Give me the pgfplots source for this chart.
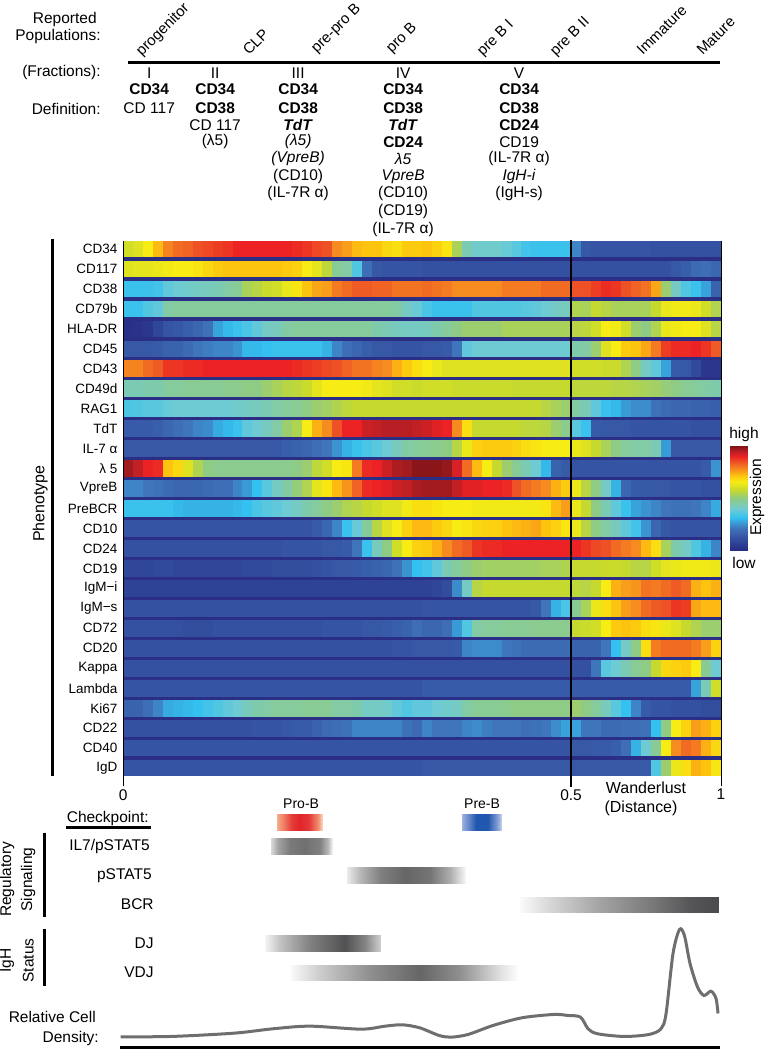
\documentclass[border=0pt]{standalone}
\usepackage{fontspec}
\setmainfont{Liberation Sans}
\usepackage{pgfplots}
\usepackage{pgfplotstable}
\pgfplotsset{compat=1.18}
\definecolor{navygap}{RGB}{42,46,133}
\definecolor{curvegray}{RGB}{109,110,112}
\pgfdeclareplotmark{heatcell}{%
  \pgfpathrectangle{\pgfpoint{-5.25pt}{-8.35pt}}{\pgfpoint{10.5pt}{16.7pt}}%
  \pgfusepathqfill}
\pgfplotsset{
  colormap={heat}{
    rgb255(0pt)=(38,42,130); rgb255(12pt)=(52,80,160); rgb255(22pt)=(63,118,187);
    rgb255(32pt)=(52,193,240); rgb255(40pt)=(111,203,211); rgb255(50pt)=(142,203,133);
    rgb255(58pt)=(197,217,47); rgb255(66pt)=(247,236,19); rgb255(72pt)=(253,196,15);
    rgb255(78pt)=(246,139,31); rgb255(84pt)=(239,91,37); rgb255(90pt)=(236,34,36);
    rgb255(95pt)=(184,31,37); rgb255(100pt)=(126,20,22)},
  colormap={fade}{rgb255(0pt)=(255,255,255); rgb255(100pt)=(51,51,53)},
  colormap={redfade}{rgb255(0pt)=(255,255,255); rgb255(45pt)=(243,150,115); rgb255(100pt)=(225,37,43)},
  colormap={bluefade}{rgb255(0pt)=(255,255,255); rgb255(45pt)=(135,160,215); rgb255(100pt)=(33,87,174)},
}
\newcommand{\fs}{\fontsize{15.5}{17}\selectfont}
\pgfplotstableread[header=false]{
60 62 66 73 79 82 83 85 86 87 88 90 90 90 90 90 90 89 88 86 85 78 76 73 72 72 69 68 71 71 72 70 67 54 44 41 41 41 39 37 34 33 33 33 33 24 14 13 13 13 13 13 13 12 12 12 12 12 12 12
62 63 63 64 65 66 66 67 69 71 72 72 72 72 72 72 71 70 66 63 57 48 46 36 20 14 13 13 13 13 12 12 12 12 12 12 12 12 12 12 12 12 12 12 12 12 12 12 12 12 12 12 12 12 12 14 16 19 20 18
33 33 33 34 38 40 41 42 43 44 46 48 54 56 59 60 64 67 72 75 76 80 82 84 84 83 83 81 81 81 82 81 80 78 78 78 78 78 80 80 80 80 82 82 82 85 85 87 89 88 85 83 81 75 52 42 36 33 28 17
33 33 36 38 46 47 47 47 47 47 47 47 47 47 47 47 47 47 47 47 47 47 47 47 47 47 47 46 42 39 35 33 33 33 33 36 36 36 36 36 37 38 40 42 43 55 54 58 56 54 54 54 54 58 64 65 65 64 60 55
2 3 4 9 13 14 16 18 21 28 31 33 35 38 42 43 46 47 47 47 47 47 47 47 47 45 44 43 42 42 43 45 47 50 52 52 52 52 54 54 54 54 54 54 54 56 57 60 66 65 60 52 50 55 64 65 66 66 62 56
14 14 14 15 17 17 19 22 23 24 24 26 31 31 32 33 33 33 33 33 30 24 20 18 16 14 14 13 13 13 14 14 15 22 38 40 40 40 40 40 40 40 40 40 40 45 46 52 62 66 71 72 75 80 87 89 89 90 88 84
79 79 82 84 88 88 89 89 90 90 90 90 90 90 90 90 90 89 88 87 86 85 83 81 81 79 78 74 71 68 66 64 62 62 62 62 62 62 62 62 62 62 62 62 62 60 60 60 59 59 55 50 42 38 28 15 14 10 4 4
44 44 45 45 47 47 48 48 48 48 49 49 50 50 52 54 56 57 59 63 66 66 66 66 65 63 62 60 60 59 60 60 60 59 59 59 59 59 59 58 58 58 58 58 58 57 57 57 57 56 56 55 54 53 51 50 48 47 46 45
35 36 37 37 39 40 40 40 40 40 40 41 42 43 44 46 47 48 50 52 53 55 57 58 58 58 58 58 58 58 58 58 58 58 58 58 58 58 58 58 58 58 56 54 52 46 44 38 33 31 27 25 25 21 19 18 18 17 17 16
15 15 15 16 18 20 22 24 25 29 31 33 38 40 43 46 52 55 66 74 78 85 90 90 93 94 95 95 95 94 93 91 90 78 68 58 58 58 58 58 57 57 56 52 49 37 33 15 14 14 14 13 13 13 13 13 13 12 12 12
14 14 14 14 14 14 14 14 14 14 14 14 14 14 14 14 16 17 18 20 22 26 30 33 35 37 40 43 46 47 48 49 50 56 64 70 71 71 71 70 68 67 66 66 66 64 62 58 54 50 47 46 46 44 27 14 14 14 14 14
97 94 90 89 72 69 62 55 50 49 49 49 49 49 49 49 49 50 52 57 60 66 67 80 89 90 93 96 97 99 99 99 98 92 82 73 66 58 52 48 44 40 31 17 15 13 13 13 13 13 13 13 13 13 13 13 13 13 15 26
24 24 22 21 19 18 18 18 19 20 20 24 27 32 37 42 46 51 55 63 67 73 77 83 89 90 91 93 94 96 97 97 97 94 91 91 90 90 89 85 82 80 78 74 71 64 56 50 42 30 18 15 14 14 14 13 13 13 12 12
33 33 33 33 33 31 30 30 30 30 30 31 32 35 37 38 40 42 45 47 50 52 55 56 58 60 62 62 65 68 68 67 66 66 66 65 65 65 65 65 65 65 67 73 76 64 58 50 44 38 33 28 26 24 22 21 21 22 24 29
13 13 13 13 13 13 13 13 13 13 13 13 13 13 13 13 13 13 13 15 18 24 33 39 47 56 62 66 70 73 73 71 69 66 67 69 70 70 72 73 74 75 72 70 67 64 56 50 46 43 38 34 26 18 14 13 13 13 13 13
12 12 12 12 12 12 12 12 12 12 12 12 12 12 12 12 13 13 13 13 14 14 15 22 33 43 50 60 66 70 71 74 78 82 84 88 89 89 90 90 90 90 90 90 90 90 88 86 85 82 80 78 73 68 54 45 42 36 30 24
9 9 9 10 10 9 9 9 9 9 9 9 10 10 10 11 11 11 11 12 13 14 14 15 16 17 18 21 26 32 34 38 44 47 50 52 53 53 53 53 53 53 54 54 55 58 58 58 59 59 58 56 56 60 63 64 65 65 65 64
8 8 8 8 8 8 8 8 8 8 8 8 8 8 8 8 8 8 8 8 8 8 8 8 8 8 8 8 8 8 8 9 11 25 42 56 58 58 58 58 58 58 58 58 58 57 56 58 66 74 76 77 81 80 82 84 82 74 72 74
12 12 12 12 12 12 12 12 12 12 12 12 12 12 12 12 12 12 12 12 12 12 12 12 12 12 12 12 12 12 13 13 13 13 13 13 13 13 13 13 13 14 22 30 35 48 54 64 68 72 76 78 82 84 85 88 87 75 73 73
12 12 12 12 12 12 11 11 11 12 12 12 12 12 12 12 12 12 12 12 13 13 13 13 14 14 15 16 17 20 18 18 20 27 36 46 47 47 48 48 48 49 49 49 49 58 59 60 66 71 72 71 68 67 64 62 58 55 52 52
12 12 12 12 12 12 12 12 12 12 12 12 12 12 12 12 12 12 12 12 12 12 12 12 12 12 12 13 13 14 14 14 14 15 24 25 25 25 22 21 19 19 19 19 19 17 17 17 22 32 42 50 68 80 82 82 82 80 76 70
12 12 12 12 12 12 12 12 12 12 12 12 12 12 12 12 12 12 12 12 12 12 12 12 12 12 12 12 12 12 12 12 12 12 12 12 12 12 12 12 12 12 12 12 12 12 12 22 37 40 44 48 50 58 69 70 71 66 48 40
13 13 13 13 13 13 13 13 13 13 13 13 13 13 13 13 13 13 13 13 13 13 13 13 13 13 13 13 13 13 15 15 15 15 15 15 15 15 15 15 15 15 15 15 15 15 15 15 15 15 15 15 15 15 15 15 15 28 44 60
17 17 20 24 29 30 31 32 34 36 38 40 43 45 46 47 47 47 48 48 48 46 46 45 42 42 41 38 36 38 38 40 41 42 46 48 48 48 49 50 50 50 50 50 50 52 50 47 43 37 32 24 15 13 13 12 12 12 11 11
12 12 12 12 12 12 12 12 12 12 12 12 12 13 13 13 14 15 15 17 19 20 21 24 24 24 24 24 21 19 24 22 22 22 24 25 23 22 22 22 20 21 22 25 28 28 22 22 19 19 20 20 21 32 50 66 70 76 74 70
13 13 13 13 13 13 13 13 13 13 13 13 13 13 13 13 13 13 13 13 13 13 13 13 13 13 13 13 13 13 13 13 13 13 13 13 13 13 13 13 13 13 13 13 13 14 14 15 15 16 20 30 40 48 66 78 82 80 74 69
13 13 13 13 13 13 13 13 13 13 13 13 13 13 13 13 13 13 13 13 13 13 13 13 13 13 13 13 13 13 14 14 14 14 14 14 14 14 14 14 14 14 14 14 14 14 14 14 14 14 14 14 15 36 52 64 68 74 72 67
}\heatraw
\pgfplotstabletranspose\heat\heatraw
\begin{document}
\begin{tikzpicture}
% heat map: x in bins (0..60), y in rows
\begin{axis}[
  at={(123pt,273.1pt)}, anchor=south west,
  width=598pt, height=535.9pt, scale only axis,
  xmin=0, xmax=60, ymin=-0.418, ymax=26.418, y dir=reverse,
  colormap name=heat, point meta min=0, point meta max=100,
  axis background/.style={fill=navygap},
  axis line style={draw=none},
  xtick={0,44.95,60}, xticklabels={0,0.5,1},
  ytick={0,...,26},
  yticklabels={CD34,CD117,CD38,CD79b,HLA-DR,CD45,CD43,CD49d,RAG1,TdT,IL-7 α,λ 5,VpreB,PreBCR,CD10,CD24,CD19,IgM−i,IgM−s,CD72,CD20,Kappa,Lambda,Ki67,CD22,CD40,IgD},
  tick align=outside, x tick style={black, line width=0.8pt, /pgfplots/major tick length=10pt},
  y tick style={draw=none}, ytick pos=left, xtick pos=bottom,
  xticklabel style={font=\fs, yshift=-5pt},
  yticklabel style={font=\fontsize{13.5}{15}\selectfont, xshift=2pt},
]
\pgfplotsinvokeforeach{0,...,26}{
  \addplot[scatter, only marks, mark=heatcell, point meta=explicit,
    scatter/use mapped color={draw=none, fill=mapped color}]
    table[x expr=\coordindex+0.5, y expr=#1, meta=#1] {\heat};
}
\end{axis}
% everything else, in picture pixels
\begin{axis}[
  at={(0pt,0pt)}, anchor=south west,
  width=765pt, height=1049pt, scale only axis, hide axis, clip=false,
  xmin=0, xmax=765, ymin=0, ymax=1049, y dir=reverse,
  colormap name=heat, point meta min=0, point meta max=100,
]
% heat map frame
\draw[black, line width=1pt] (axis cs:123,240)--(axis cs:123,776);
\draw[black, line width=1pt] (axis cs:721,240)--(axis cs:721,776);
\draw[black, line width=1.4pt] (axis cs:571,239)--(axis cs:571,786);
\draw[black, line width=2.6pt] (axis cs:52,238)--(axis cs:52,775);
\node[rotate=90, font=\fontsize{16}{18}\selectfont] at (axis cs:40,503) {Phenotype};
% top header
\node[anchor=east, font=\fs] at (axis cs:100,19) {Reported};
\node[anchor=east, font=\fs] at (axis cs:104,36) {Populations:};
\node[anchor=east, font=\fs] at (axis cs:104,72) {(Fractions):};
\node[anchor=east, font=\fs] at (axis cs:104,108) {Definition:};
\draw[black, line width=3pt] (axis cs:128,62)--(axis cs:720,62);
\foreach \x/\y/\t in {144/60/progenitor, 249/57/CLP, 319/57/pre-pro B, 394/57/pro B, 485/60/pre B I, 558/60/pre B II, 643/57/Immature, 703/57/Mature}{
  \edef\tmp{\noexpand\node[anchor=south west, rotate=45, inner sep=1pt, font=\noexpand\fontsize{15}{17}\noexpand\selectfont] at (axis cs:\x,\y) {\t};}\tmp
}
% fractions
\foreach \x/\y/\t in {
 149/72/I, 149/88/\textbf{CD34}, 149/107/CD 117,
 215/72/II, 215/88/\textbf{CD34}, 215/107/\textbf{CD38}, 215/124/CD 117, 215/141/(λ5),
 298/72/III, 298/88/\textbf{CD34}, 298/107/\textbf{CD38}, 298/124/\textbf{\textit{TdT}}, 298/141/\textit{(λ5)}, 298/158/\textit{(VpreB)}, 298/176/(CD10), 298/193/(IL-7R α),
 403/72/IV, 403/88/\textbf{CD34}, 403/107/\textbf{CD38}, 403/124/\textbf{\textit{TdT}}, 403/141/\textbf{CD24}, 403/158/\textit{λ5}, 403/176/\textit{VpreB}, 403/193/(CD10), 403/211/(CD19), 403/229/(IL-7R α),
 519/72/V, 519/88/\textbf{CD34}, 519/107/\textbf{CD38}, 519/124/\textbf{CD24}, 519/141/CD19, 519/158/(IL-7R α), 519/176/\textit{IgH-i}, 519/193/(IgH-s)}{
  \edef\tmp{\noexpand\node[inner sep=0pt, font=\noexpand\fs] at (axis cs:\x,\y) {\unexpanded\expandafter{\t}};}\tmp
}
% colour key
\addplot[surf, shader=interp, mesh/cols=2, point meta=explicit, colormap name=heat]
  coordinates {(730,445)[100] (747,445)[100] (730,550)[0] (747,550)[0]};
\node[font=\fs] at (axis cs:744,434) {high};
\node[font=\fs] at (axis cs:744,562) {low};
\node[rotate=90, font=\fs, inner sep=0pt] at (axis cs:757,497) {Expression};
% below the heat map
\node[font=\fontsize{16}{18}\selectfont] at (axis cs:646,787) {Wanderlust};
\node[font=\fontsize{16}{18}\selectfont] at (axis cs:641,808) {(Distance)};
\node[font=\fontsize{14}{16}\selectfont] at (axis cs:301,803) {Pro-B};
\node[font=\fontsize{14}{16}\selectfont] at (axis cs:482,803) {Pre-B};
\node[anchor=east, font=\fs] at (axis cs:152,818) {Checkpoint:};
\draw[black, line width=3pt] (axis cs:66,827)--(axis cs:151,827);
\node[anchor=east, font=\fs] at (axis cs:153,846) {IL7/pSTAT5};
\node[anchor=east, font=\fs] at (axis cs:155,875) {pSTAT5};
\node[anchor=east, font=\fs] at (axis cs:157,904) {BCR};
\node[anchor=east, font=\fs] at (axis cs:157,943) {DJ};
\node[anchor=east, font=\fs] at (axis cs:157,972) {VDJ};
\draw[black, line width=2.6pt] (axis cs:44,832)--(axis cs:44,917);
\draw[black, line width=2.6pt] (axis cs:44,929)--(axis cs:44,986);
\node[rotate=90, font=\fs, inner sep=0pt] at (axis cs:7,879) {Regulatory};
\node[rotate=90, font=\fs, inner sep=0pt] at (axis cs:28,879) {Signaling};
\node[rotate=90, font=\fs, inner sep=0pt] at (axis cs:7,960) {IgH};
\node[rotate=90, font=\fs, inner sep=0pt] at (axis cs:28,960) {Status};
\node[anchor=west, font=\fs] at (axis cs:5,1016) {Relative Cell};
\node[anchor=east, font=\fs] at (axis cs:102,1038) {Density:};
\draw[black, line width=3pt] (axis cs:120,1047)--(axis cs:720,1047);
% checkpoint bars
\addplot[surf, shader=interp, mesh/cols=7, point meta=explicit, colormap name=redfade]
 coordinates {(277,813)[35] (283,813)[55] (292,813)[90] (300,813)[100] (309,813)[90] (318,813)[50] (322,813)[20]
              (277,830)[35] (283,830)[55] (292,830)[90] (300,830)[100] (309,830)[90] (318,830)[50] (322,830)[20]};
\addplot[surf, shader=interp, mesh/cols=6, point meta=explicit, colormap name=bluefade]
 coordinates {(462,813)[35] (468,813)[60] (476,813)[100] (488,813)[100] (496,813)[55] (501,813)[25]
              (462,830)[35] (468,830)[60] (476,830)[100] (488,830)[100] (496,830)[55] (501,830)[25]};
% signalling bars
\addplot[surf, shader=interp, mesh/cols=7, point meta=explicit, colormap name=fade]
 coordinates {(271,837.5)[18] (278,837.5)[45] (290,837.5)[65] (305,837.5)[70] (320,837.5)[62] (328,837.5)[35] (332,837.5)[8]
              (271,854)[18] (278,854)[45] (290,854)[65] (305,854)[70] (320,854)[62] (328,854)[35] (332,854)[8]};
\addplot[surf, shader=interp, mesh/cols=7, point meta=explicit, colormap name=fade]
 coordinates {(347,866.5)[10] (360,866.5)[35] (380,866.5)[62] (405,866.5)[75] (430,866.5)[68] (450,866.5)[40] (465,866.5)[5]
              (347,883)[10] (360,883)[35] (380,883)[62] (405,883)[75] (430,883)[68] (450,883)[40] (465,883)[5]};
\addplot[surf, shader=interp, mesh/cols=7, point meta=explicit, colormap name=fade]
 coordinates {(520,896)[2] (550,896)[20] (600,896)[45] (650,896)[65] (690,896)[83] (705,896)[86] (718,896)[88]
              (520,912)[2] (550,912)[20] (600,912)[45] (650,912)[65] (690,912)[83] (705,912)[86] (718,912)[88]};
\addplot[surf, shader=interp, mesh/cols=6, point meta=explicit, colormap name=fade]
 coordinates {(265,935)[5] (280,935)[30] (310,935)[62] (345,935)[85] (365,935)[60] (380,935)[25]
              (265,951)[5] (280,951)[30] (310,951)[62] (345,951)[85] (365,951)[60] (380,951)[25]};
\addplot[surf, shader=interp, mesh/cols=7, point meta=explicit, colormap name=fade]
 coordinates {(291,965)[3] (320,965)[25] (370,965)[55] (420,965)[75] (460,965)[55] (500,965)[15] (519,965)[0]
              (291,980)[3] (320,980)[25] (370,980)[55] (420,980)[75] (460,980)[55] (500,980)[15] (519,980)[0]};
% density
\addplot[smooth, tension=0.5, no marks, draw=curvegray, line width=3pt] coordinates {
 (120.5,1036.3) (171,1036) (234,1032.7) (273,1028.3) (310,1025.7) (361,1028.7) (385,1025.7) (402,1024.3)
 (419.5,1027.3) (439,1035) (451,1036.7) (468,1034) (493,1025) (522,1017.3) (553.7,1014) (568,1015) (580.5,1016.7)
 (588,1028.3) (597.5,1033.3) (624,1036) (649,1034) (661,1028.3) (666,1013.3) (673,953) (679.5,929) (684.4,935)
 (690,963) (697.6,986.7) (704,995) (711,990.7) (716,998) (718,1013)};
\end{axis}
\end{tikzpicture}
\end{document}
